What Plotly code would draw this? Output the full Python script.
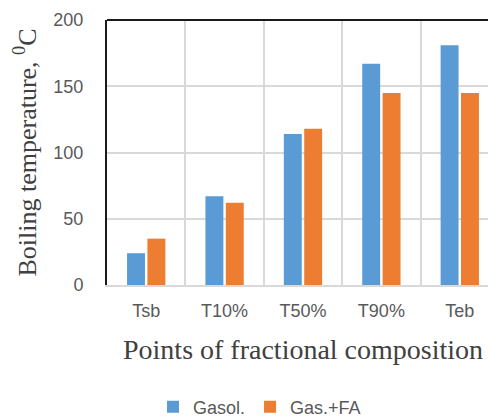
import plotly.graph_objects as go

categories = ["Tsb", "T10%", "T50%", "T90%", "Teb"]
gasol = [24, 67, 114, 167, 181]
gas_fa = [35, 62, 118, 145, 145]
y_ticks = [0, 50, 100, 150, 200]

W, H = 488, 419
L, T, B, R = 107, 20, 134, 0

fig = go.Figure()
fig.add_trace(go.Bar(x=categories, y=gasol, name="Gasol.", marker=dict(color="#5B9BD5", line=dict(width=0))))
fig.add_trace(go.Bar(x=categories, y=gas_fa, name="Gas.+FA", marker=dict(color="#ED7D31", line=dict(width=0))))

sans = "Liberation Sans, Arial, sans-serif"
tick_font = dict(family=sans, size=18, color="#595959")
serif = "Liberation Serif, Times New Roman, serif"

fig.update_layout(
    width=W, height=H,
    margin=dict(l=L, r=R, t=T, b=B, autoexpand=False),
    plot_bgcolor="white", paper_bgcolor="white",
    barmode="group", bargap=0.48, bargroupgap=0.12,
    showlegend=True,
    legend=dict(orientation="h", x=(153 - L) / (W - L - R), xanchor="left", y=-(407 - 285) / (H - T - B),
                yanchor="middle",
                font=dict(family=sans, size=18, color="#595959"),
                itemwidth=30, traceorder="normal"),
    xaxis=dict(
        type="category", range=[-0.5, 4.36], tickson="boundaries",
        showgrid=True, gridcolor="#D9D9D9", gridwidth=2,
        showline=True, linecolor="#D9D9D9", linewidth=2,
        ticks="", tickfont=tick_font, ticklabelstandoff=8,
    ),
    yaxis=dict(
        range=[0, 200], tickvals=y_ticks, showgrid=True, gridcolor="#D9D9D9", gridwidth=2,
        zeroline=False, showline=True, linecolor="#1a1a1a", linewidth=2,
        ticks="", tickfont=tick_font, ticklabelstandoff=18,
        title=dict(text="Boiling temperature, <sup>0</sup>C",
                   font=dict(family=serif, size=26, color="#404040"), standoff=9),
    ),
    shapes=[dict(type="line", xref="paper", yref="paper", x0=0, x1=1, y0=1, y1=1,
                 line=dict(color="#1a1a1a", width=2))],
    annotations=[dict(text="Points of fractional composition", xref="paper", yref="paper",
                      x=(303 - L) / (W - L - R), y=-(349 - 285) / (H - T - B),
                      xanchor="center", yanchor="middle",
                      showarrow=False, font=dict(family=serif, size=28, color="#404040"))],
)

fig.write_html("out.html", config={"displayModeBar": False},
               post_script="document.body.style.margin='0';document.body.style.overflow='hidden';")
